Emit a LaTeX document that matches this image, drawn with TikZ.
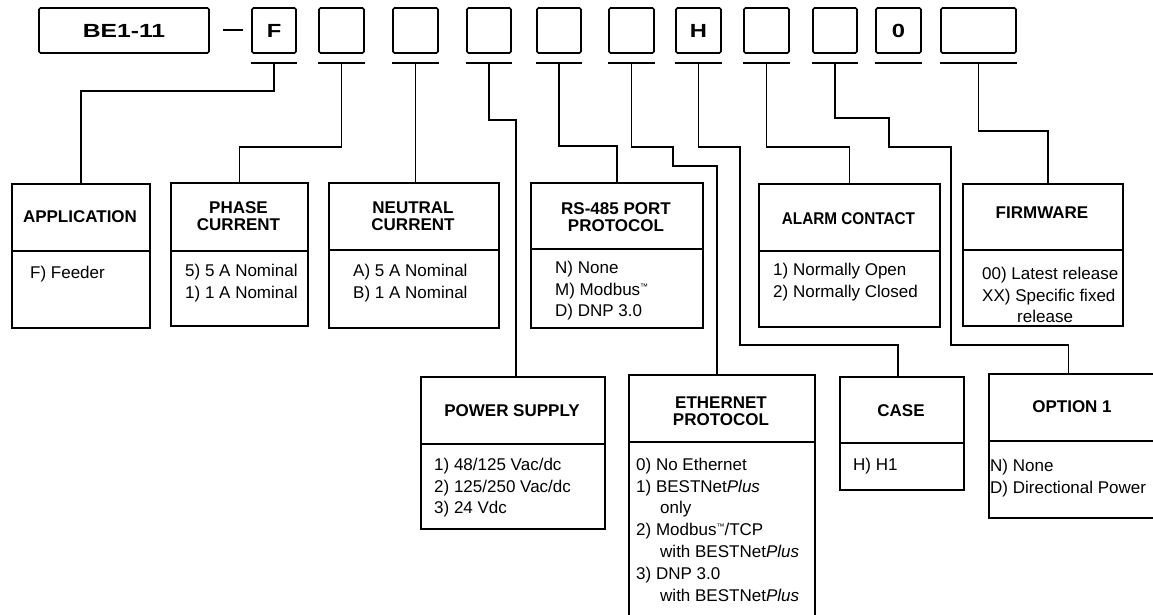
\documentclass[tikz,border=0pt]{standalone}
\usepackage{fontspec}
\setmainfont{Liberation Sans}
\newcommand\tmk{\raisebox{6pt}{\fontsize{8}{8}\selectfont ™}}
\begin{document}
\begin{tikzpicture}[x=1pt,y=-1pt,
  codebox/.style={draw, line width=1.7pt, rounded corners=1.5pt, inner sep=0pt, minimum height=45pt,
    font=\fontsize{19}{19}\selectfont\bfseries},
  uline/.style={line width=1.7pt},
  conn/.style={line width=1.3pt},
  optbox/.style={draw, line width=1.7pt, inner sep=0pt, anchor=north west},
  divline/.style={line width=1.7pt},
  hdr/.style={font=\fontsize{17}{17}\selectfont\bfseries, align=center, inner sep=0pt},
  body/.style={font=\fontsize{17}{21.8}\selectfont, align=left, inner sep=0pt, anchor=north west},
]
\useasboundingbox (0,0) rectangle (1153,615);

% ---- top row: model number
\node[codebox, minimum width=170pt] (be) at (124,30.5) {\scalebox{1.3}[1]{BE1-11}};
\draw[uline] (223,30) -- (243,30);
\node[codebox, minimum width=44pt] (cF) at (274,30.5) {\scalebox{1.25}[1]{F}};
\node[codebox, minimum width=45pt] (c2) at (341.5,30.5) {};
\node[codebox, minimum width=45pt] (c3) at (415.5,30.5) {};
\node[codebox, minimum width=44pt] (c4) at (489,30.5) {};
\node[codebox, minimum width=44pt] (c5) at (559,30.5) {};
\node[codebox, minimum width=45pt] (c6) at (631.5,30.5) {};
\node[codebox, minimum width=45pt] (cH) at (698.5,30.5) {\scalebox{1.25}[1]{H}};
\node[codebox, minimum width=45pt] (c8) at (766.5,30.5) {};
\node[codebox, minimum width=44pt] (c9) at (835,30.5) {};
\node[codebox, minimum width=45pt] (c0) at (898.5,30.5) {\scalebox{1.25}[1]{0}};
\node[codebox, minimum width=75pt] (cw) at (978.5,30.5) {};

\foreach \n in {cF,c2,c3,c4,c5,c6,cH,c8,c9,c0,cw}
  \draw[uline] (\n.south west |- 0,63) -- (\n.south east |- 0,63);

% ---- option boxes
\node[optbox, minimum width=138pt, minimum height=144pt] (app) at (11,183) {};
\draw[divline] (app.west |- 0,251) -- (app.east |- 0,251);
\node[hdr] (appH) at (80,217) {APPLICATION};
\node[body] (appB) at (30,265.7) {F) Feeder};

\node[optbox, minimum width=137pt, minimum height=143pt] (ph) at (170,182) {};
\draw[divline] (ph.west |- 0,251) -- (ph.east |- 0,251);
\node[hdr] (phH) at (238.5,216) {PHASE\\CURRENT};
\node[body] (phB) at (185,263.7) {5) 5 A Nominal\\1) 1 A Nominal};

\node[optbox, minimum width=170pt, minimum height=145pt] (neu) at (328,182) {};
\draw[divline] (neu.west |- 0,250) -- (neu.east |- 0,250);
\node[hdr] (neuH) at (413,216) {NEUTRAL\\CURRENT};
\node[body] (neuB) at (353,263.7) {A) 5 A Nominal\\B) 1 A Nominal};

\node[optbox, minimum width=172pt, minimum height=145pt] (rs) at (530,182) {};
\draw[divline] (rs.west |- 0,249) -- (rs.east |- 0,249);
\node[hdr] (rsH) at (616,217) {RS-485 PORT\\PROTOCOL};
\node[body] (rsB) at (555,260.7) {N) None\\M) Modbus\tmk\\D) DNP 3.0};

\node[optbox, minimum width=181pt, minimum height=143pt] (al) at (758,183) {};
\draw[divline] (al.west |- 0,251) -- (al.east |- 0,251);
\node[hdr] (alH) at (848.5,219) {\scalebox{0.9}[1]{ALARM CONTACT}};
\node[body] (alB) at (773,262.7) {1) Normally Open\\2) Normally Closed};

\node[optbox, minimum width=160pt, minimum height=142pt] (fw) at (962,183) {};
\draw[divline] (fw.west |- 0,250) -- (fw.east |- 0,250);
\node[hdr] (fwH) at (1042,213) {FIRMWARE};
\node[body] (fwB) at (982,266.7) {00) Latest release\\XX) Specific fixed\\\hspace*{35pt}release};

\node[optbox, minimum width=184pt, minimum height=152pt] (ps) at (420,376) {};
\draw[divline] (ps.west |- 0,444) -- (ps.east |- 0,444);
\node[hdr] (psH) at (512,411) {POWER SUPPLY};
\node[body] (psB) at (434,457.7) {1) 48/125 Vac/dc\\2) 125/250 Vac/dc\\3) 24 Vdc};

\node[optbox, minimum width=186pt, minimum height=266pt] (eth) at (628,374) {};
\draw[divline] (eth.west |- 0,442) -- (eth.east |- 0,442);
\node[hdr] (ethH) at (721,411.5) {ETHERNET\\PROTOCOL};
\node[body] (ethB) at (636,457.7) {0) No Ethernet\\1) BESTNet\textit{Plus}\\\hspace*{24pt}only\\2) Modbus\tmk/TCP\\\hspace*{24pt}with BESTNet\textit{Plus}\\3) DNP 3.0\\\hspace*{24pt}with BESTNet\textit{Plus}};

\node[optbox, minimum width=124pt, minimum height=113pt] (case) at (839,376) {};
\draw[divline] (case.west |- 0,443) -- (case.east |- 0,443);
\node[hdr] (caseH) at (901,411) {CASE};
\node[body] (caseB) at (853,457.7) {H) H1};

\node[optbox, minimum width=169pt, minimum height=144pt] (opt) at (988,373) {};
\draw[divline] (opt.west |- 0,441) -- (opt.east |- 0,441);
\node[hdr] (optH) at (1072,407) {OPTION 1};
\node[body] (optB) at (990,458.7) {N) None\\D) Directional Power};

% ---- connectors
\draw[conn] (cF.south |- 0,63) |- (app.north |- 0,91) -- (app.north);
\draw[conn] (c2.south |- 0,63) |- (ph.north |- 0,147) -- (ph.north);
\draw[conn] (c3.south |- 0,63) -- (c3.south |- neu.north);
\draw[conn] (c4.south |- 0,63) |- ([xshift=3pt]ps.north |- 0,120) -- ([xshift=3pt]ps.north);
\draw[conn] (c5.south |- 0,63) |- (rs.north |- 0,146) -- (rs.north);
\draw[conn] (c6.south |- 0,63) |- (673,147) |- ([xshift=-5pt]eth.north |- 0,166) -- ([xshift=-5pt]eth.north);
\draw[conn] (cH.south |- 0,63) |- (740,147) |- ([xshift=-4pt]case.north |- 0,345) -- ([xshift=-4pt]case.north);
\draw[conn] (c8.south |- 0,63) |- (al.north |- 0,147) -- (al.north);
\draw[conn] (c9.south |- 0,63) |- (889,118) |- (951,147) |- ([xshift=-5pt]opt.north |- 0,345) -- ([xshift=-5pt]opt.north);
\draw[conn] (cw.south |- 0,63) |- ([xshift=5pt]fw.north |- 0,131) -- ([xshift=5pt]fw.north);
\end{tikzpicture}
\end{document}
